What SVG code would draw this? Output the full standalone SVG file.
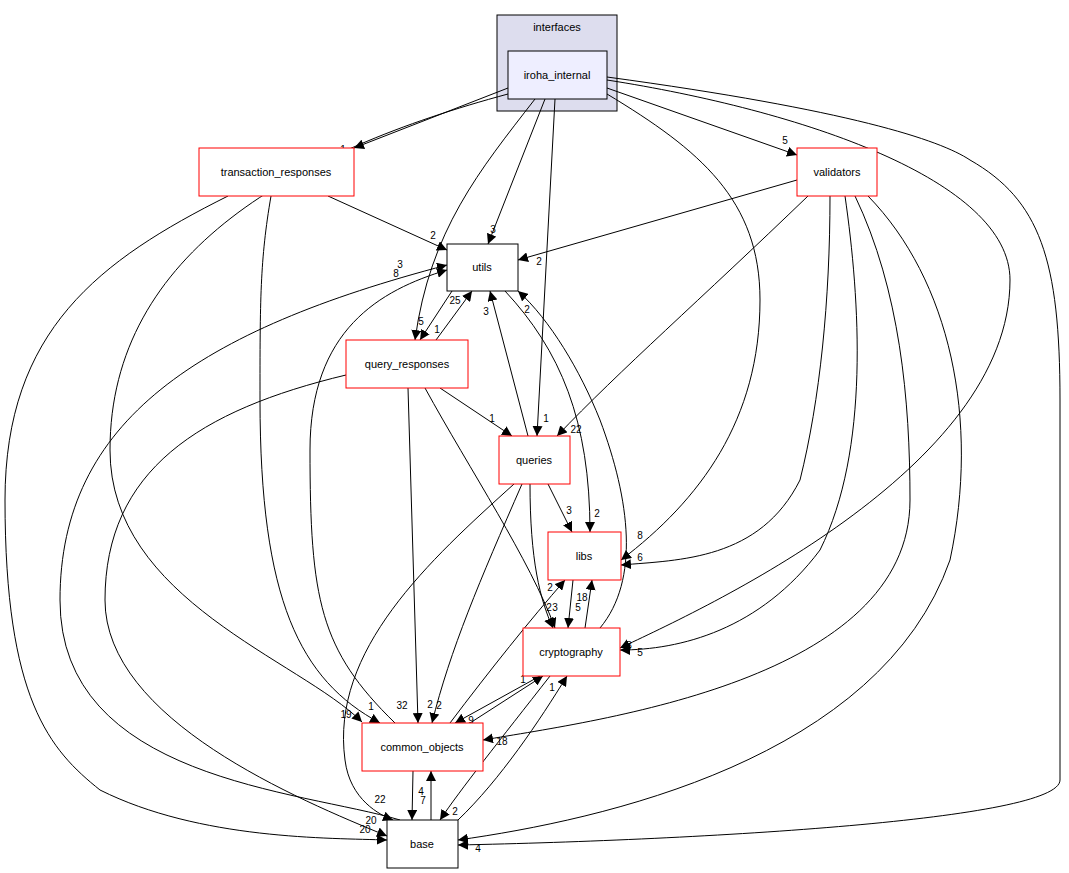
<svg xmlns="http://www.w3.org/2000/svg" width="1069" height="873" viewBox="0 0 1069 873">
<style>
.n{fill:#fff;stroke:#ff0000;stroke-width:1}
.b{fill:#fff;stroke:#000;stroke-width:1}
.t{font-family:"Liberation Sans",Arial,sans-serif;font-size:11px;text-anchor:middle;fill:#000}
.l{font-family:"Liberation Sans",Arial,sans-serif;font-size:10px;text-anchor:middle;fill:#000}
.e{fill:none;stroke:#000;stroke-width:1;marker-end:url(#a)}
</style>
<defs>
<marker id="a" markerUnits="userSpaceOnUse" markerWidth="11" markerHeight="10" refX="10" refY="5" orient="auto"><path d="M0,0 L10,5 L0,10 Z" fill="#000"/></marker>
</defs>
<rect width="1069" height="873" fill="#fff"/>
<g id="cluster_interfaces">
<rect x="497" y="15" width="120" height="96" fill="#ddddee" stroke="#000"/>
<text class="t" x="557" y="31">interfaces</text>
</g>
<g id="edges">
<path class="e" d="M508,88 L354,148"/>
<path class="e" d="M607,88 L797,155"/>
<path class="e" d="M545,99 L488,244"/>
<path class="e" d="M535,99 C480,170 430,230 415,340"/>
<path class="e" d="M555,99 L537,436"/>
<path class="e" d="M607,94 C700,150 760,200 760,300 C760,420 700,500 621,560"/>
<path class="e" d="M508,94 C300,150 110,250 110,450 C110,600 300,660 362,722"/>
<path class="e" d="M607,80 C800,110 1010,180 1010,280 C1010,470 700,610 620,648"/>
<path class="e" d="M607,77 C850,110 940,140 970,160 C1040,200 1060,260 1060,400 L1060,780 C1060,820 700,840 458,845"/>
<path class="e" d="M328,196 L447,250"/>
<path class="e" d="M271,196 C260,260 260,300 260,400 C260,600 300,680 380,723"/>
<path class="e" d="M228,196 C100,260 5,330 5,500 C5,700 50,750 100,790 C200,840 330,838 387,840"/>
<path class="e" d="M797,180 L518,260"/>
<path class="e" d="M808,196 C700,300 620,370 557,436"/>
<path class="e" d="M830,196 C830,300 820,400 800,480 C760,560 680,560 621,565"/>
<path class="e" d="M845,196 C860,300 870,450 820,550 C760,630 680,650 620,650"/>
<path class="e" d="M855,196 C900,290 910,400 910,500 C910,680 600,720 483,740"/>
<path class="e" d="M868,196 C950,280 980,420 950,560 C880,760 600,820 458,840"/>
<path class="e" d="M452,291 L420,340"/>
<path class="e" d="M436,340 L472,291"/>
<path class="e" d="M505,291 C560,350 590,420 590,532"/>
<path class="e" d="M400,820 C300,790 60,780 60,600 C60,420 200,330 447,265"/>
<path class="e" d="M395,723 C320,650 310,600 310,450 C310,330 380,290 447,270"/>
<path class="e" d="M440,388 L512,436"/>
<path class="e" d="M408,388 L418,723"/>
<path class="e" d="M425,388 C470,470 530,560 555,628"/>
<path class="e" d="M346,375 C200,410 105,470 105,600 C105,720 300,800 387,836"/>
<path class="e" d="M528,436 L490,291"/>
<path class="e" d="M548,484 L572,532"/>
<path class="e" d="M522,484 C480,580 450,650 432,723"/>
<path class="e" d="M530,484 C530,560 540,600 553,628"/>
<path class="e" d="M514,484 C430,560 330,650 345,760 C350,800 380,815 393,820"/>
<path class="e" d="M573,580 L568,628"/>
<path class="e" d="M585,628 L592,580"/>
<path class="e" d="M600,628 C640,580 630,500 600,420 C580,370 550,320 518,291"/>
<path class="e" d="M540,676 L455,723"/>
<path class="e" d="M470,723 L543,676"/>
<path class="e" d="M550,676 C500,740 460,790 440,820"/>
<path class="e" d="M458,820 C500,780 540,720 567,676"/>
<path class="e" d="M413,771 L412,820"/>
<path class="e" d="M431,820 L431,771"/>
<path class="e" d="M450,723 C490,670 530,620 565,580"/>
<g class="l">
<text x="343" y="153">1</text><text x="785" y="144">5</text><text x="493" y="233">3</text>
<text x="421" y="325">5</text><text x="546" y="422">1</text><text x="640" y="539">8</text>
<text x="346" y="718">19</text><text x="629" y="649">3</text><text x="478" y="852">4</text>
<text x="433" y="239">2</text><text x="371" y="710">1</text><text x="365" y="833">20</text>
<text x="539" y="265">2</text><text x="576" y="433">22</text><text x="640" y="561">6</text>
<text x="640" y="656">5</text><text x="502" y="745">18</text>
<text x="455" y="304">25</text><text x="437" y="333">1</text><text x="527" y="313">2</text>
<text x="597" y="517">2</text><text x="396" y="277">8</text><text x="400" y="268">3</text>
<text x="492" y="422">1</text><text x="402" y="709">32</text><text x="555" y="611">3</text>
<text x="371" y="824">20</text><text x="486" y="315">3</text><text x="569" y="514">3</text>
<text x="439" y="709">2</text><text x="549" y="611">2</text><text x="380" y="803">22</text>
<text x="578" y="611">5</text><text x="582" y="601">18</text><text x="471" y="724">9</text>
<text x="523" y="683">1</text><text x="455" y="815">2</text><text x="552" y="691">1</text>
<text x="423" y="804">7</text><text x="421" y="795">4</text><text x="550" y="591">2</text>
<text x="430" y="708">2</text>
</g>
</g>
<g id="iroha_internal"><rect x="508" y="51" width="99" height="48" fill="#eeeeff" stroke="#000"/><text class="t" x="557" y="79">iroha_internal</text></g>
<g id="transaction_responses"><rect class="n" x="199" y="148" width="155" height="48"/><text class="t" x="276" y="176">transaction_responses</text></g>
<g id="validators"><rect class="n" x="797" y="148" width="80" height="48"/><text class="t" x="837" y="176">validators</text></g>
<g id="utils"><rect class="b" x="447" y="244" width="71" height="47"/><text class="t" x="482" y="271">utils</text></g>
<g id="query_responses"><rect class="n" x="346" y="340" width="122" height="48"/><text class="t" x="407" y="368">query_responses</text></g>
<g id="queries"><rect class="n" x="499" y="436" width="71" height="48"/><text class="t" x="534" y="464">queries</text></g>
<g id="libs"><rect class="n" x="548" y="532" width="73" height="48"/><text class="t" x="584" y="560">libs</text></g>
<g id="cryptography"><rect class="n" x="523" y="628" width="97" height="48"/><text class="t" x="571" y="656">cryptography</text></g>
<g id="common_objects"><rect class="n" x="362" y="723" width="121" height="48"/><text class="t" x="422" y="751">common_objects</text></g>
<g id="base"><rect class="b" x="387" y="820" width="71" height="48"/><text class="t" x="422" y="848">base</text></g>
</svg>
